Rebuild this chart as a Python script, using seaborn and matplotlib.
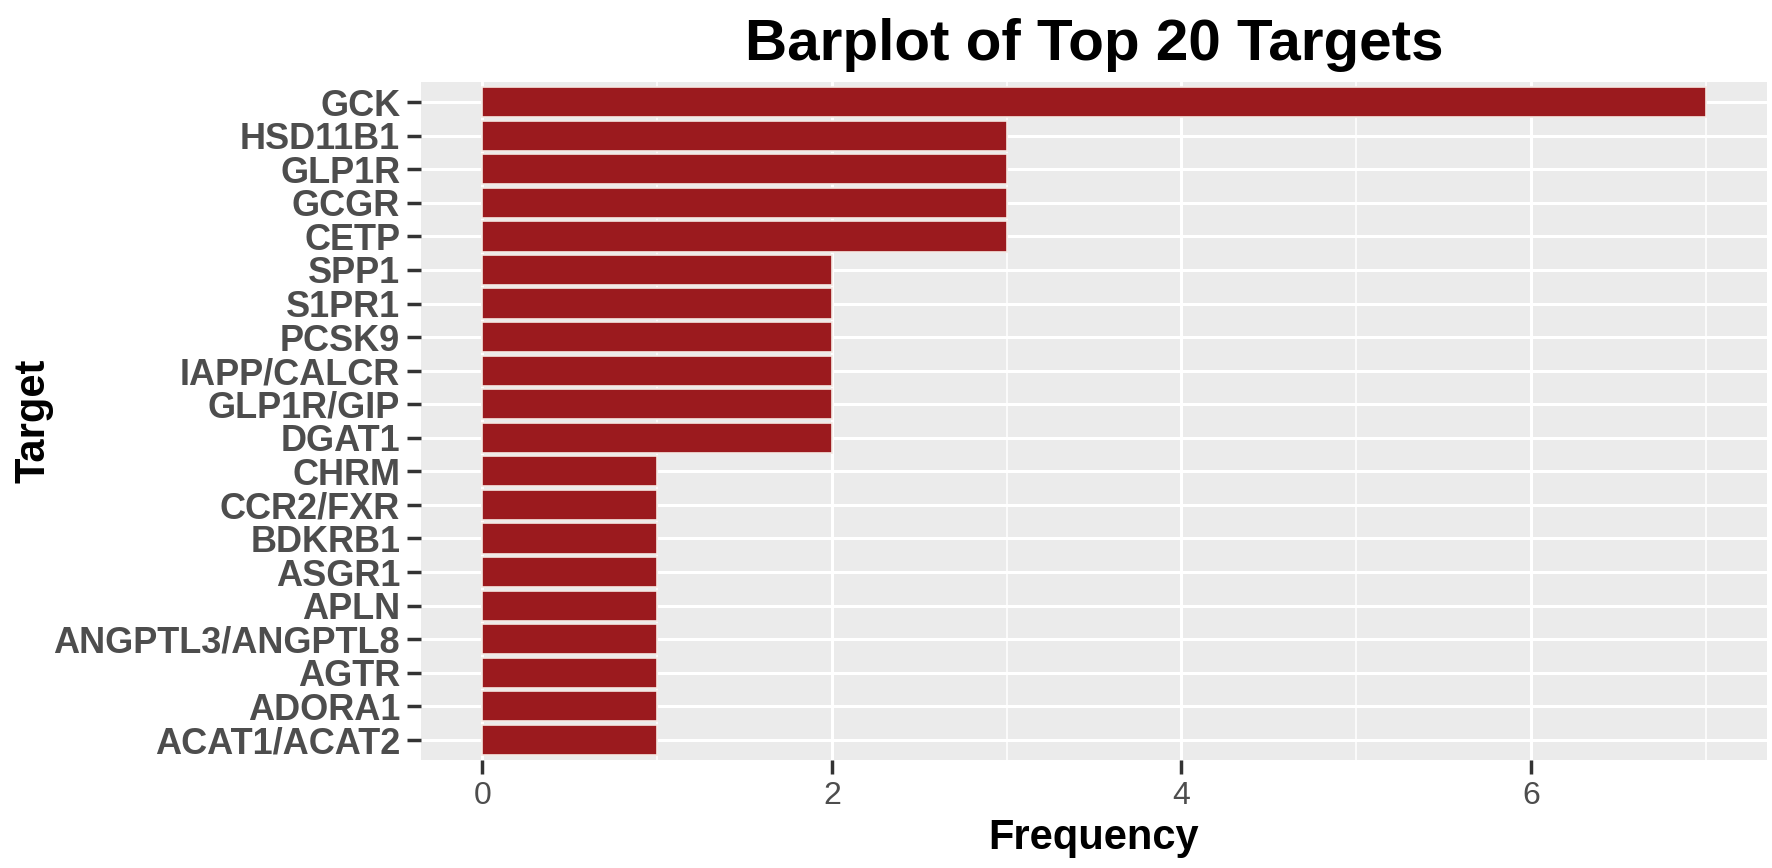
import matplotlib
matplotlib.use("Agg")
import matplotlib.pyplot as plt
from matplotlib.ticker import MultipleLocator
import seaborn as sns
import pandas as pd

# data
targets = ["GCK", "HSD11B1", "GLP1R", "GCGR", "CETP", "SPP1", "S1PR1", "PCSK9",
           "IAPP/CALCR", "GLP1R/GIP", "DGAT1", "CHRM", "CCR2/FXR", "BDKRB1",
           "ASGR1", "APLN", "ANGPTL3/ANGPTL8", "AGTR", "ADORA1", "ACAT1/ACAT2"]
frequency = [7, 3, 3, 3, 3, 2, 2, 2, 2, 2, 2, 1, 1, 1, 1, 1, 1, 1, 1, 1]
x_ticks = [0, 2, 4, 6]

df = pd.DataFrame({"Target": targets, "Frequency": frequency})

sns.set_theme(style="darkgrid", rc={
    "axes.facecolor": "#EBEBEB",
    "grid.color": "white",
    "axes.edgecolor": "#EBEBEB",
})
plt.rcParams["font.family"] = ["Liberation Sans", "DejaVu Sans"]

fig = plt.figure(figsize=(17.72, 8.68), dpi=100)
ax = fig.add_axes([0.2376, 0.1244, 0.9972 - 0.2376, 0.9055 - 0.1244])

sns.barplot(data=df, y="Target", x="Frequency", order=targets, orient="h",
            color="#9B1A1E", saturation=1, width=0.9,
            edgecolor="#F4E9E4", linewidth=1.2, ax=ax, zorder=3)

ax.set_xlim(-0.35, 7.35)
ax.set_ylim(len(targets) - 0.4, -0.6)
ax.set_xticks(x_ticks)
ax.xaxis.set_minor_locator(MultipleLocator(1))
ax.grid(which="major", axis="both", color="white", linewidth=2.2, zorder=0)
ax.grid(which="minor", axis="x", color="white", linewidth=1.1, zorder=0)
ax.set_axisbelow(True)
for s in ax.spines.values():
    s.set_visible(False)

ax.tick_params(axis="both", which="major", length=10, width=2.5, color="#333333",
               pad=5, bottom=True, left=True)
ax.tick_params(axis="both", which="minor", length=0)
ax.tick_params(axis="x", labelsize=23, labelcolor="#4D4D4D")
ax.tick_params(axis="y", labelsize=26, labelcolor="#4D4D4D")
for lab in ax.get_yticklabels():
    lab.set_fontweight("bold")

ax.set_xlabel("Frequency", fontsize=30, fontweight="bold", color="black", labelpad=5)
ax.set_ylabel("Target", fontsize=30, fontweight="bold", color="black", labelpad=0)
ax.set_title("Barplot of Top 20 Targets", fontsize=42, fontweight="bold",
             color="black", pad=16)

fig.savefig("out.png", dpi=100)
